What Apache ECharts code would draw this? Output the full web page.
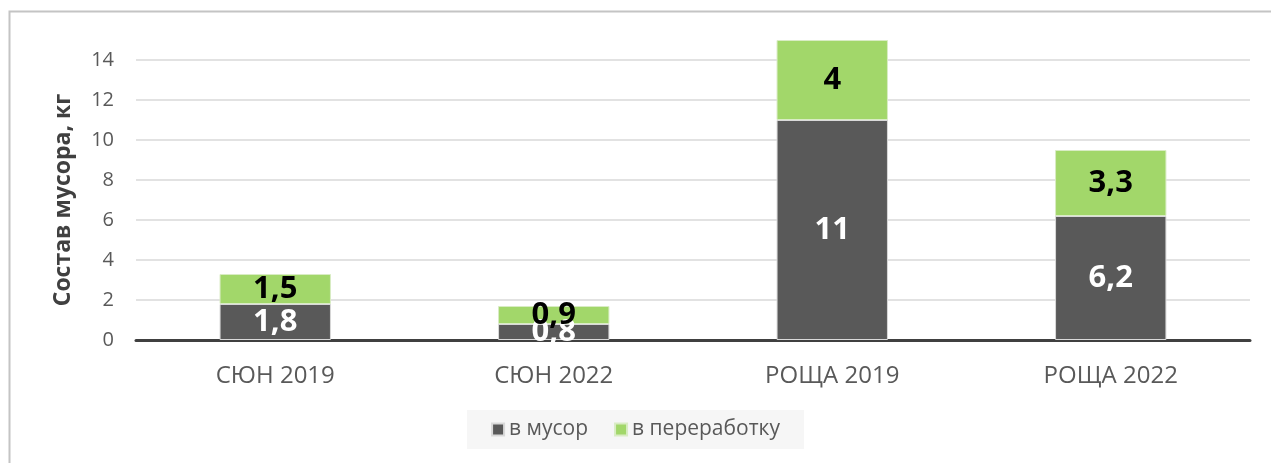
<!DOCTYPE html>
<html>

<head>
    <meta charset="utf-8">
    <title>ECharts</title>
    <script src="https://cdn.jsdelivr.net/npm/echarts@6/dist/echarts.min.js"></script>
    <style>
        html, body { margin: 0; padding: 0; background: #fff; }
    </style>
</head>

<body>
    <div id="main" style="width:1271px;height:463px;"></div>
    <script type="text/javascript">
        var categories = ['СЮН 2019', 'СЮН 2022', 'РОЩА 2019', 'РОЩА 2022'];
        var trashValues = [1.8, 0.8, 11, 6.2];
        var recycleValues = [1.5, 0.9, 4, 3.3];
        var seriesNames = ['в мусор', 'в переработку'];

        var myChart = echarts.init(document.getElementById('main'));

        var font = '"Open Sans", "Noto Sans", sans-serif';

        function comma(p) {
            return String(p.value).replace('.', ',');
        }

        var option = {
            animation: false,
            textStyle: { fontFamily: font },
            graphic: [{
                type: 'rect',
                shape: { x: 9.5, y: 11.5, width: 1300, height: 500 },
                style: { fill: 'none', stroke: '#c4c4c4', lineWidth: 2 },
                z: -1
            }],
            grid: {
                left: 136,
                right: 21,
                top: 60,
                bottom: 123
            },
            legend: {
                bottom: 14,
                left: 'center',
                icon: 'rect',
                itemWidth: 12,
                itemHeight: 12,
                itemGap: 26,
                padding: [9, 24, 9, 24],
                backgroundColor: '#f6f6f6',
                textStyle: { color: '#595959', fontSize: 21, fontFamily: font },
                data: seriesNames
            },
            xAxis: {
                type: 'category',
                data: categories,
                axisTick: { show: false },
                axisLine: { lineStyle: { color: '#404040', width: 3 } },
                axisLabel: { color: '#595959', fontSize: 24, margin: 24, fontFamily: font }
            },
            yAxis: {
                type: 'value',
                min: 0,
                max: 14,
                interval: 2,
                name: 'Состав мусора, кг',
                nameLocation: 'middle',
                nameGap: 61,
                nameTextStyle: { color: '#404040', fontSize: 23, fontWeight: 'bold', fontFamily: font },
                axisLabel: { color: '#595959', fontSize: 20, margin: 22, fontFamily: font },
                splitLine: { lineStyle: { color: '#d9d9d9', width: 1.5 } }
            },
            series: [{
                name: seriesNames[0],
                type: 'bar',
                stack: 'total',
                clip: false,
                barWidth: '40%',
                data: trashValues,
                itemStyle: { color: '#595959', borderColor: '#d9d9d9', borderWidth: 1 },
                label: {
                    show: true,
                    position: 'inside',
                    color: '#ffffff',
                    fontSize: 31,
                    fontWeight: 'bold',
                    fontFamily: font,
                    formatter: comma
                }
            }, {
                name: seriesNames[1],
                type: 'bar',
                stack: 'total',
                clip: false,
                barWidth: '40%',
                data: recycleValues,
                itemStyle: { color: '#a2d76a', borderColor: '#d9ecc4', borderWidth: 1 },
                label: {
                    show: true,
                    position: 'inside',
                    color: '#000000',
                    fontSize: 31,
                    fontWeight: 'bold',
                    fontFamily: font,
                    formatter: comma
                }
            }]
        };
        myChart.setOption(option);
    </script>
</body>

</html>
